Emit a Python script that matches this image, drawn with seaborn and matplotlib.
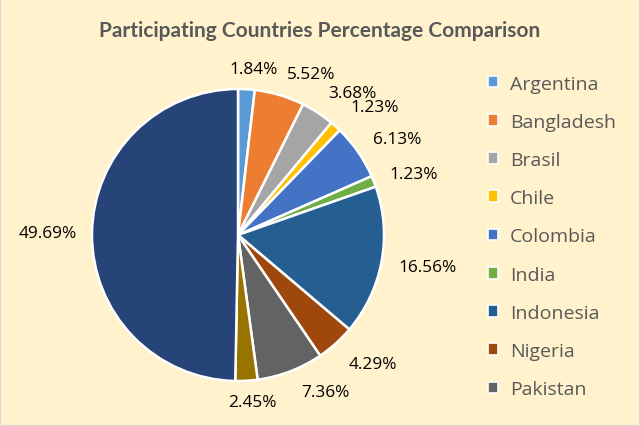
import matplotlib
matplotlib.use("Agg")
import matplotlib.pyplot as plt
import seaborn as sns
import numpy as np
from matplotlib.patches import Rectangle, Patch

countries = ["Argentina", "Bangladesh", "Brasil", "Chile", "Colombia", "India",
             "Indonesia", "Nigeria", "Pakistan", "Philippines", "Vietnam"]
percentages = [1.84, 5.52, 3.68, 1.23, 6.13, 1.23, 16.56, 4.29, 7.36, 2.45, 49.69]
colors = ["#5B9BD5", "#ED7D31", "#A5A5A5", "#FFC000", "#4472C4", "#70AD47",
          "#255E91", "#9E480E", "#636363", "#997300", "#264478"]
label_dist = [1.14, 1.21, 1.25, 1.28, 1.27, 1.27, 1.32, 1.28, 1.23, 1.15, 1.30]
label_shift = [-1.9, -7.8, -5.7, -5.0, -3.7, -2.4, 0.9, 4.3, 8.3, 1.7, 0]
legend_count = 9

sns.set_theme(style="white")
plt.rcParams["font.family"] = ["Open Sans", "DejaVu Sans"]

bg = "#FFF2CC"
fig = plt.figure(figsize=(6.4, 4.27), dpi=100, facecolor=bg)
fig.patches.append(Rectangle((0, 0), 1, 1, transform=fig.transFigure,
                             fill=False, edgecolor="#D9D9D9", linewidth=1.5))

W, H = 640, 427
cx, cy, r = 238, 236, 146
ax = fig.add_axes([(cx - r) / W, (H - cy - r) / H, 2 * r / W, 2 * r / H])
ax.set_facecolor(bg)
pal = sns.color_palette(colors)
wedges, _ = ax.pie(percentages, colors=pal, startangle=90, counterclock=False,
                   radius=1, wedgeprops=dict(edgecolor="white", linewidth=1.8))
ax.set_xlim(-1, 1)
ax.set_ylim(-1, 1)
ax.set_aspect("equal")
ax.axis("off")

for w, v, d, s in zip(wedges, percentages, label_dist, label_shift):
    th = np.deg2rad((w.theta1 + w.theta2) / 2 + s)
    ax.text(d * np.cos(th), d * np.sin(th), f"{v:.2f}%", ha="center", va="center",
            fontsize=12.4, color="#000000")

fig.text(0.5, 1 - 37 / H, "Participating Countries Percentage Comparison",
         ha="center", va="baseline", fontsize=15, fontweight="bold", color="#595959",
         family=["Lato", "DejaVu Sans"])

handles = [Patch(facecolor=c, edgecolor="white", linewidth=1.2) for c in colors[:legend_count]]
leg = fig.legend(handles, countries[:legend_count], loc="upper left",
                 bbox_to_anchor=(470 / W, 1 - 58 / H), frameon=False,
                 fontsize=14, labelcolor="#595959", handlelength=0.55,
                 handleheight=0.55, handletextpad=0.6, labelspacing=1.04)

fig.savefig("out.png", dpi=100, facecolor=bg)
